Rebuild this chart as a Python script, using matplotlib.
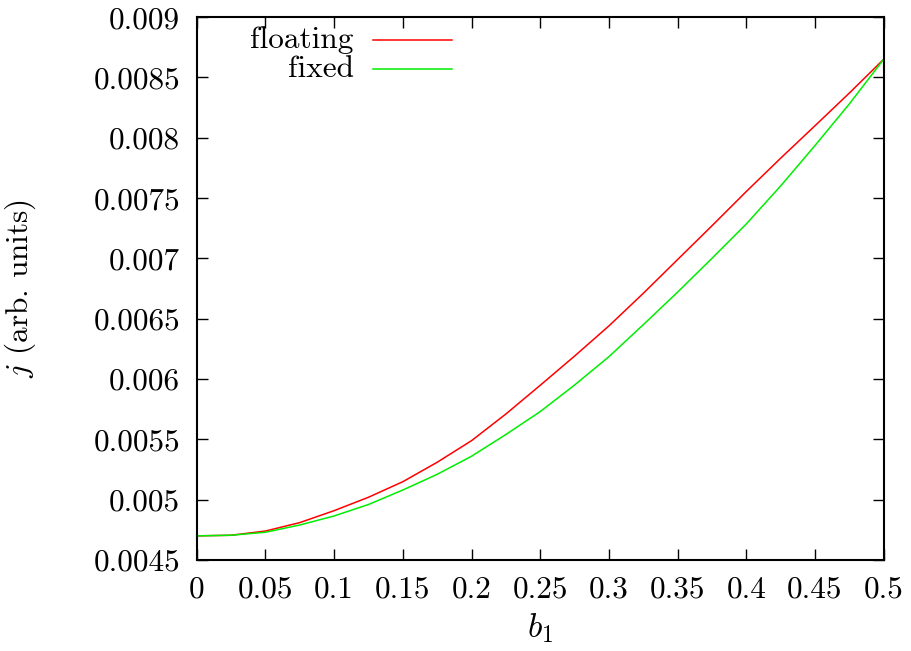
import matplotlib
matplotlib.use("Agg")
import matplotlib.pyplot as plt
from matplotlib.lines import Line2D

plt.rcParams['font.family'] = ['cmr10', 'DejaVu Serif']
plt.rcParams['mathtext.fontset'] = 'cm'
plt.rcParams['axes.unicode_minus'] = False

b1 = [0.0, 0.025, 0.05, 0.075, 0.1, 0.125, 0.15, 0.175, 0.2, 0.225, 0.25,
      0.275, 0.3, 0.325, 0.35, 0.375, 0.4, 0.425, 0.45, 0.475, 0.5]
floating = [0.0047, 0.004705, 0.00474, 0.00481, 0.004909, 0.00502, 0.005149,
            0.00531, 0.005489, 0.00571, 0.005948, 0.00619, 0.00644, 0.00671,
            0.00699, 0.00727, 0.007554, 0.00783, 0.008099, 0.00837, 0.00865]
fixed = [0.0047, 0.004705, 0.00473, 0.00479, 0.004865, 0.00496, 0.00508,
         0.00521, 0.00536, 0.00554, 0.00573, 0.00595, 0.006185, 0.00645,
         0.00672, 0.00700, 0.007285, 0.00760, 0.007935, 0.00828, 0.00865]

xticks = [0, 0.05, 0.1, 0.15, 0.2, 0.25, 0.3, 0.35, 0.4, 0.45, 0.5]
xticklabels = ['0', '0.05', '0.1', '0.15', '0.2', '0.25', '0.3', '0.35', '0.4', '0.45', '0.5']
yticks = [0.0045, 0.005, 0.0055, 0.006, 0.0065, 0.007, 0.0075, 0.008, 0.0085, 0.009]
yticklabels = ['0.0045', '0.005', '0.0055', '0.006', '0.0065', '0.007', '0.0075', '0.008', '0.0085', '0.009']

fig = plt.figure(figsize=(9.11, 6.51), dpi=100)
ax = fig.add_axes([0.216, 0.1398, 0.754, 0.834])

ax.plot(b1, floating, color='#ff0000', lw=1.1)
ax.plot(b1, fixed, color='#00ee00', lw=1.1)

ax.set_xlim(0, 0.5)
ax.set_ylim(0.0045, 0.009)
ax.set_xticks(xticks)
ax.set_xticklabels(xticklabels)
ax.set_yticks(yticks)
ax.set_yticklabels(yticklabels)
ax.tick_params(direction='in', length=8, width=1.0, top=True, right=True,
               labelsize=22.5, pad=12)
ax.tick_params(axis='x', pad=11)
for s in ax.spines.values():
    s.set_linewidth(1.5)

ax.set_xlabel(r'$b_1$', fontsize=24, labelpad=6)
ax.set_ylabel(r'$j$ (arb. units)', fontsize=22.5, labelpad=40)

# legend (gnuplot style: right-aligned text, then line sample)
labels = ['floating', 'fixed']
colors = ['#ff0000', '#00ee00']
ys = [0.9576, 0.904]
for lab, c, yy in zip(labels, colors, ys):
    ax.text(0.2285, yy, lab, transform=ax.transAxes, ha='right', va='center',
            fontsize=22.5)
    ax.add_line(Line2D([0.256, 0.371], [yy, yy], transform=ax.transAxes,
                       color=c, lw=1.1))

fig.savefig('out.png', dpi=100)
